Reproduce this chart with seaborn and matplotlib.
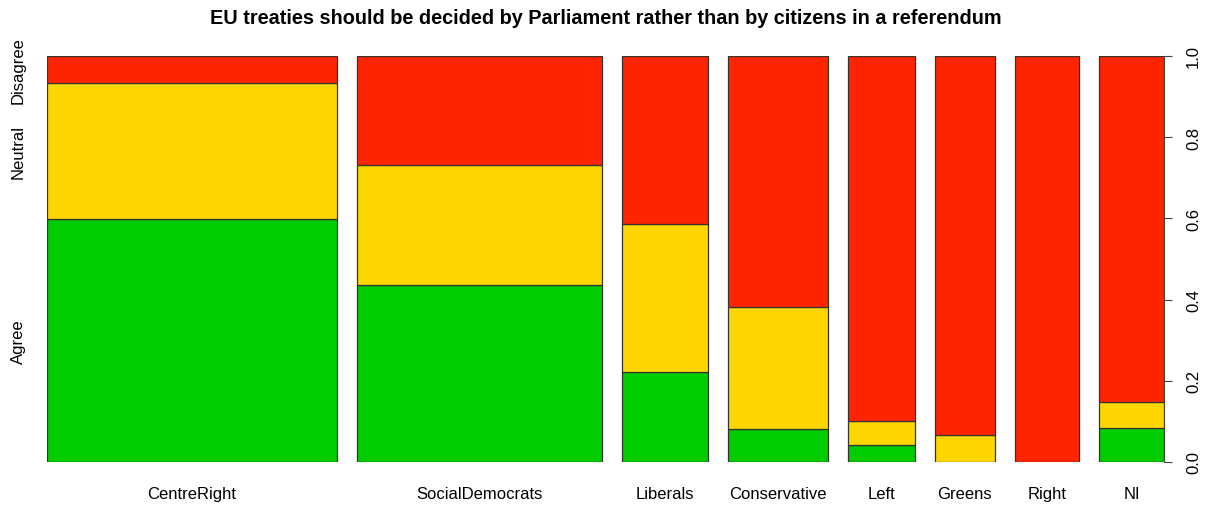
import matplotlib
matplotlib.use("Agg")
import matplotlib.pyplot as plt
import seaborn as sns
import numpy as np

sns.set_style("white")
plt.rcParams["font.family"] = ["Liberation Sans", "DejaVu Sans"]
plt.rcParams["text.color"] = "black"
plt.rcParams["xtick.color"] = "black"
plt.rcParams["ytick.color"] = "black"

## DATA
groups = ["CentreRight", "SocialDemocrats", "Liberals", "Conservative",
          "Left", "Greens", "Right", "NI"]
# relative group sizes (bar widths)
sizes = [289, 245, 86, 100, 66, 60, 64, 65]
agree = [0.598, 0.436, 0.222, 0.081, 0.042, 0.0, 0.0, 0.084]
neutral = [0.335, 0.296, 0.364, 0.301, 0.059, 0.066, 0.0, 0.064]
levels = ["Agree", "Neutral", "Disagree"]
colors = ["#00CC00", "#FFD700", "#FF2400"]

## LAYOUT
gap = 20
sizes = np.array(sizes, dtype=float)
lefts = np.concatenate([[0], np.cumsum(sizes + gap)[:-1]])
total = lefts[-1] + sizes[-1]
agree = np.array(agree)
neutral = np.array(neutral)
disagree = 1 - agree - neutral

fig = plt.figure(figsize=(12.1, 5.06), dpi=100)
ax = fig.add_axes([47 / 1210, 43 / 506, 1117 / 1210, 406 / 506])

bottom = np.zeros(len(groups))
for vals, col in zip([agree, neutral, disagree], colors):
    ax.bar(lefts, vals, width=sizes, bottom=bottom, align="edge",
           color=col, edgecolor="#333333", linewidth=0.9)
    bottom = bottom + vals

ax.set_xlim(0, total)
ax.set_ylim(0, 1)
for s in ax.spines.values():
    s.set_visible(False)

# group labels
ax.set_xticks(lefts + sizes / 2)
ax.set_xticklabels(groups, fontsize=12)
ax.tick_params(axis="x", length=0, pad=17)

# right probability axis
ax.yaxis.tick_right()
ax.set_yticks(np.linspace(0, 1, 6))
ax.set_yticklabels([f"{v:.1f}" for v in np.linspace(0, 1, 6)],
                   rotation=90, va="center", fontsize=12)
ax.tick_params(axis="y", right=True, length=6, width=0.8, color="#444444", pad=10)
ax.plot([1, 1], [0, 1], transform=ax.transAxes, color="#444444",
        lw=0.8, clip_on=False)

# left level labels at first bar's segment midpoints
mids = [agree[0] / 2, agree[0] + neutral[0] / 2,
        agree[0] + neutral[0] + disagree[0] / 2]
for lab, m in zip(levels, mids):
    ax.text(-29 / 1117, m, lab, rotation=90, ha="center", va="center",
            fontsize=12, transform=ax.get_yaxis_transform())

ax.set_title("EU treaties should be decided by Parliament rather than by citizens in a referendum",
             fontsize=14.3, fontweight="bold", pad=24)

fig.savefig("out.png", dpi=100)
